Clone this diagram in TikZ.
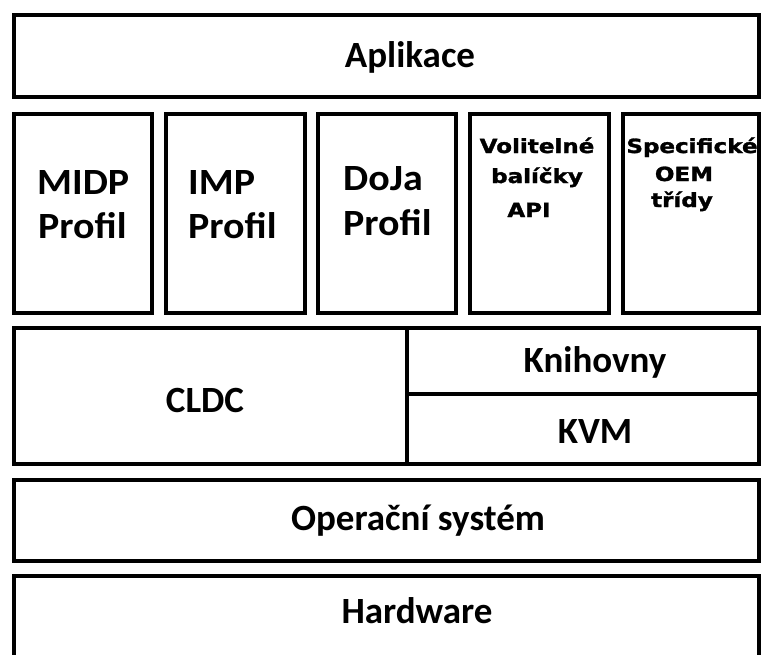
\documentclass[tikz,border=0pt]{standalone}
\usepackage{fontspec}
\newfontfamily\calfont{Carlito}[BoldFont={Carlito Bold}]
\newfontfamily\verdfont{DejaVu Sans}[BoldFont={DejaVu Sans Bold},BoldFeatures={FakeBold=1.5}]
\begin{document}
\begin{tikzpicture}[x=1pt,y=-1pt,
  frame/.style={draw=black,line width=3.6pt},
  big/.style={font=\calfont\bfseries\fontsize{37}{44}\selectfont,inner sep=0pt},
  prof/.style={big,xscale=1.08,transform shape},
  small/.style={font=\verdfont\bfseries\fontsize{19.5}{23}\selectfont,inner sep=0pt,xscale=1.18,transform shape}]
\useasboundingbox (0,0) rectangle (763,654);
\clip (0,0) rectangle (763,654);
\fill[white] (0,0) rectangle (763,654);
% frames
\draw[frame] (14,15) rectangle (759,97);
\draw[frame] (14,114) rectangle (152,313);
\draw[frame] (166,114) rectangle (305,313);
\draw[frame] (318,114) rectangle (456,313);
\draw[frame] (470,114) rectangle (609,313);
\draw[frame] (623,114) rectangle (759,313);
\draw[frame] (14,328) rectangle (759,464);
\draw[frame] (407,328) -- (407,464);
\draw[frame] (407,394) -- (759,394);
\draw[frame] (14,480) rectangle (759,561);
\draw[frame] (14,576) rectangle (759,700);
% texts
\node[big,anchor=base] (apl) at (410,67) {Aplikace};
\node[prof,anchor=base west] (midp1) at (37,194) {MIDP};
\node[prof,anchor=base west] (midp2) at (38,238) {Profil};
\node[prof,anchor=base west] (imp1) at (188,194) {IMP};
\node[prof,anchor=base west] (imp2) at (188,238) {Profil};
\node[prof,anchor=base west] (doja1) at (343,190) {DoJa};
\node[prof,anchor=base west] (doja2) at (343,235) {Profil};
\node[small,anchor=base] (vol1) at (537,153) {Volitelné};
\node[small,anchor=base] (vol2) at (537,183) {balíčky};
\node[small,anchor=base] (vol3) at (529,217) {API};
\node[small,anchor=base] (spec1) at (692,153) {Specifické};
\node[small,anchor=base] (spec2) at (684,181) {OEM};
\node[small,anchor=base] (spec3) at (682,207) {třídy};
\node[big,anchor=base] (cldc) at (205,412) {CLDC};
\node[big,anchor=base] (knih) at (595,372) {Knihovny};
\node[big,anchor=base] (kvm) at (595,443) {KVM};
\node[big,anchor=base] (os) at (418,530) {Operační systém};
\node[big,anchor=base] (hw) at (417,623) {Hardware};
\end{tikzpicture}
\end{document}
